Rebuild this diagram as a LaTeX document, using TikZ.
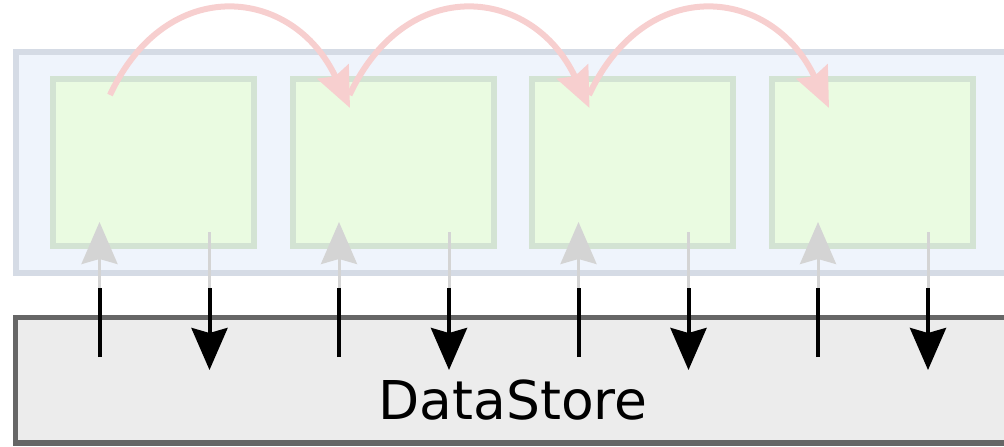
\documentclass[tikz,border=0pt]{standalone}
\usepackage{fontspec}
\setmainfont{DejaVu Sans}
\usetikzlibrary{positioning, calc, arrows.meta}
\definecolor{panelfill}{RGB}{239,244,252}
\definecolor{panelline}{RGB}{213,219,229}
\definecolor{cellfill}{RGB}{234,251,225}
\definecolor{cellline}{RGB}{211,227,211}
\definecolor{storefill}{RGB}{236,236,236}
\definecolor{storeline}{RGB}{102,102,102}
\definecolor{hopcol}{RGB}{247,207,207}
\definecolor{fadecol}{RGB}{212,212,212}
\tikzset{
panel/.style={draw=panelline, fill=panelfill, line width=3pt, minimum width=512pt, minimum height=110.75pt, inner sep=0pt, outer sep=0pt},
cell/.style={draw=cellline, fill=cellfill, line width=3pt, minimum width=100.5pt, minimum height=83.5pt, inner sep=0pt, outer sep=0pt},
store/.style={draw=storeline, fill=storefill, line width=2.75pt, minimum width=497.5pt, minimum height=62.75pt, inner sep=0pt, outer sep=0pt},
hop/.style={hopcol, line width=3pt, -{Stealth[length=20pt, width=17pt, inset=2.5pt]}},
fade/.style={fadecol, line width=1.5pt},
dark/.style={black, line width=2pt},
tip/.style={-{Stealth[length=21pt, width=18pt, inset=2.5pt]}}
}

\begin{document}
\begin{tikzpicture}[x=0.5pt, y=0.5pt]
\clip (0,0) rectangle (1004,446);
\node[panel] (pn) at (528,283.75) {};
\node[cell] (b1) at (153.5,283.5) {};
\node[cell, right=19.25pt of b1] (b2) {};
\node[cell, right=19.25pt of b2] (b3) {};
\node[cell, right=19.25pt of b3] (b4) {};
\node[store] (ds) at (513,65.75) {};
\node[anchor=base, font=\fontsize{26.75}{30}\selectfont] (dslabel) at ([yshift=12pt]ds.south) {DataStore};

% reads and writes
\foreach \i in {1,...,4}{
  \coordinate (ua\i) at ($(b\i.south)+(-54,-111)$);
  \coordinate (um\i) at ($(b\i.south)+(-54,-42)$);
  \coordinate (ut\i) at ($(b\i.south)+(-54,24)$);
  \coordinate (da\i) at ($(b\i.south)+(56,14)$);
  \coordinate (dm\i) at ($(b\i.south)+(56,-42)$);
  \coordinate (dt\i) at ($(b\i.south)+(56,-124)$);
  \draw[dark] (ua\i) -- (um\i);
  \draw[fade, tip] (um\i) -- (ut\i);
  \draw[fade] (da\i) -- (dm\i);
  \draw[dark, tip] (dm\i) -- (dt\i);
}

% hand-over between steps
\foreach \i/\j in {1/2,2/3,3/4}{
  \coordinate (hs\i) at ($(b\i.center)+(-43.5,67.5)$);
  \coordinate (he\i) at ($(b\j.center)+(-43,54.5)$);
  \draw[hop] (hs\i) to[out=65, in=115, looseness=1.43] (he\i);
}
\end{tikzpicture}
\end{document}
